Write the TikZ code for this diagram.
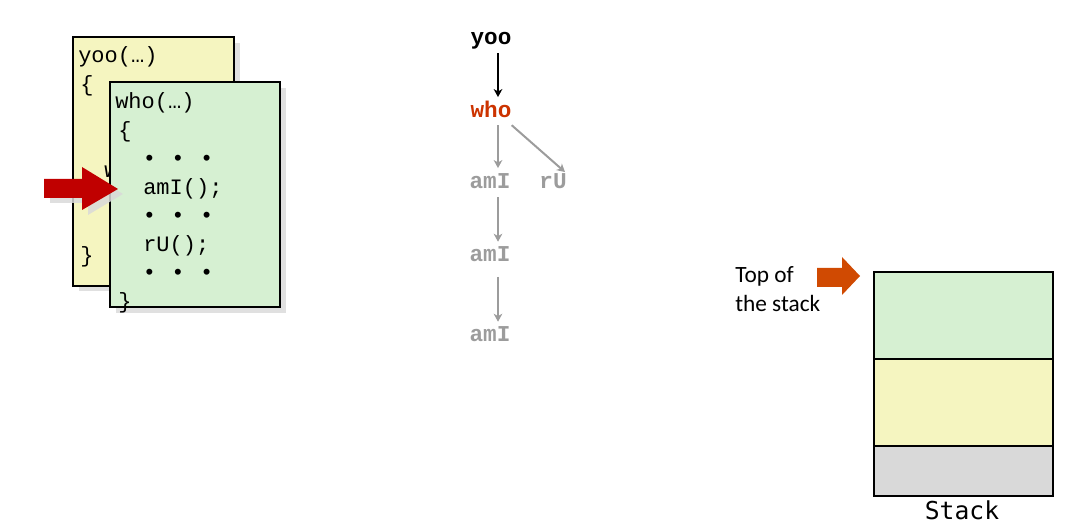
\documentclass[tikz,border=0pt]{standalone}
\usepackage{fontspec}
\setmainfont{Liberation Serif}
\newfontfamily\codefont{Liberation Mono}
\newfontfamily\calfont{Carlito}
\newfontfamily\stackfont{DejaVu Sans Mono}
\usetikzlibrary{arrows.meta}
\definecolor{boxyellow}{HTML}{F5F5C0}
\definecolor{boxgreen}{HTML}{D6F0D2}
\definecolor{boxgray}{HTML}{D9D9D9}
\definecolor{shadowgray}{HTML}{E0E0E0}
\definecolor{darkred}{HTML}{C00000}
\definecolor{whored}{HTML}{CC3300}
\definecolor{callgray}{HTML}{9C9C9C}
\definecolor{toporange}{HTML}{D04A02}
\begin{document}
\begin{tikzpicture}[x=0.75pt,y=-0.75pt,
  code/.style={font=\codefont\fontsize{16.5}{20}\selectfont, anchor=base west, inner sep=0pt},
  call/.style={font=\codefont\bfseries\fontsize{17}{20}\selectfont, anchor=base, inner sep=0pt, text height=9pt, text depth=2pt},
  frame/.style={draw=black, line width=1pt},
  shadow/.style={fill=shadowgray, draw=none},
  callarrow/.style={line width=1.5pt, -{Stealth[length=6pt,width=6.5pt,inset=1.8pt]}},
  stackcell/.style={draw=black, line width=1.6pt}
]
\useasboundingbox (0,0) rectangle (1066,523);

% ---- yoo frame ----
\fill[shadow] (79,43) rectangle (240,291);
\path[frame, fill=boxyellow] (73,37) rectangle (234,286);
\node[code] (yhead) at (78,63) {yoo(…)};
\node[code] (yopen) at (80,91.6) {\{};
\node[code] (ycall) at (104,177.4) {w};
\node[code] (yclose) at (80,263) {\}};

% ---- who frame ----
\fill[shadow] (116,88) rectangle (286,313);
\path[frame, fill=boxgreen] (110,82) rectangle (280,307);
\node[code] (whead) at (115,109) {who(…)};
\node[code] (wopen) at (118,137.5) {\{};
\node[code] (wdots1) at (142.5,166) {•\hspace{11.6pt}•\hspace{11.6pt}•};
\node[code] (wami) at (143,195) {amI();};
\node[code] (wdots2) at (142.5,223) {•\hspace{11.6pt}•\hspace{11.6pt}•};
\node[code] (wru) at (143,252) {rU();};
\node[code] (wdots3) at (142.5,280) {•\hspace{11.6pt}•\hspace{11.6pt}•};
\node[code] (wclose) at (118,309) {\}};

% ---- red pointer arrow ----
\fill[gray!30, opacity=0.85] (50,184) -- (88,184) -- (88,172) -- (123,194) -- (88,215) -- (88,203) -- (50,203) -- cycle;
\fill[darkred] (44,179) -- (82,179) -- (82,167) -- (118,189) -- (82,210) -- (82,198) -- (44,198) -- cycle;

% ---- call tree ----
\node[call, text=black] (tyoo) at (491,45) {yoo};
\node[call, text=whored] (twho) at (491,118) {who};
\node[call, text=callgray] (tami1) at (490,189) {amI};
\node[call, text=callgray] (tru) at (553,189) {rU};
\node[call, text=callgray] (tami2) at (490,262) {amI};
\node[call, text=callgray] (tami3) at (490,342) {amI};

\draw[callarrow, draw=black] ([xshift=5.25pt,yshift=-4pt]tyoo.south) -- ([xshift=5.25pt,yshift=6.5pt]twho.north);
\draw[callarrow, draw=callgray] ([xshift=5.25pt,yshift=-3.2pt]twho.south) -- ([xshift=6pt,yshift=6.5pt]tami1.north);
\draw[callarrow, draw=callgray] ([xshift=0pt,yshift=-3.2pt]twho.south east) -- ([xshift=9pt,yshift=3.5pt]tru.north);
\draw[callarrow, draw=callgray] ([xshift=6pt,yshift=-4pt]tami1.south) -- ([xshift=6pt,yshift=6pt]tami2.north);
\draw[callarrow, draw=callgray] ([xshift=6pt,yshift=-9pt]tami2.south) -- ([xshift=6pt,yshift=6pt]tami3.north);

% ---- stack ----
\path[stackcell, fill=boxgreen] (874,272) rectangle (1053,359);
\path[stackcell, fill=boxyellow] (874,359) rectangle (1053,446);
\path[stackcell, fill=boxgray] (874,446) rectangle (1053,496);
\node[font=\stackfont\fontsize{18.5}{20}\selectfont, anchor=base, inner sep=0pt] (stacklabel) at (962,519) {Stack};

% ---- top of stack ----
\node[font=\calfont\fontsize{17.5}{21}\selectfont, anchor=base west, inner sep=0pt] (top1) at (735,283) {Top of};
\node[font=\calfont\fontsize{17.5}{21}\selectfont, anchor=base west, inner sep=0pt] (top2) at (735,312) {the stack};
\fill[toporange] (817,268) -- (842,268) -- (842,257) -- (860,276) -- (842,295) -- (842,287) -- (817,287) -- cycle;
\end{tikzpicture}
\end{document}
